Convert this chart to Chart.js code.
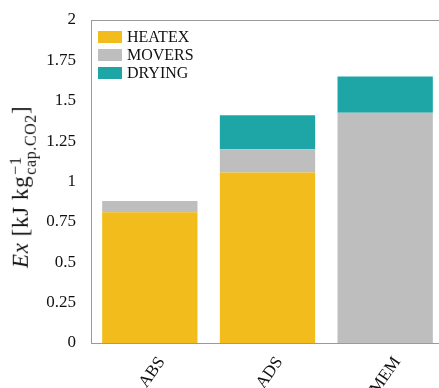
<!DOCTYPE html>
<html>
<head>
<meta charset="utf-8">
<script src="https://cdn.jsdelivr.net/npm/chart.js@4/dist/chart.umd.min.js"></script>
<style>
    html, body { margin: 0; padding: 0; background: #fff; overflow: hidden; }
    #wrap { position: relative; width: 439px; height: 388px; overflow: hidden; }
    #box { position: absolute; left: 0; top: 0; width: 446px; height: 388px; }
    #legend { position: absolute; left: 98px; top: 28px; font-family: "Liberation Serif", serif; font-size: 16px; color: #111; }
    #legend .row { display: flex; align-items: center; height: 18px; }
    #legend .sw { width: 24px; height: 12px; margin-right: 5px; }
    #ytitle { position: absolute; left: 23px; top: 187px; transform: translate(-50%, -50%) rotate(-90deg);
        white-space: nowrap; font-family: "Liberation Serif", serif; font-weight: normal; font-size: 23px;
        letter-spacing: 0.6px; color: #111; }
    #ytitle .ss { display: inline-flex; flex-direction: column; vertical-align: middle; line-height: 0.95; font-size: 16px; margin-left: 1px; }
</style>
</head>
<body>
<div id="wrap">
    <div id="box"><canvas id="chart"></canvas></div>
    <div id="legend"></div>
    <div id="ytitle"><i>Ex</i> [kJ kg<span class="ss"><span>&minus;1</span><span>cap.CO2</span></span>]</div>
</div>
<script>
const categories = ['ABS', 'ADS', 'MEM'];
const heatex = [0.81, 1.055, 0];
const movers = [0.07, 0.145, 1.425];
const drying = [0, 0.21, 0.225];
const yTicks = [0, 0.25, 0.5, 0.75, 1, 1.25, 1.5, 1.75, 2];

const SERIES = [
    { label: 'HEATEX', data: heatex, color: '#F2BD1C' },
    { label: 'MOVERS', data: movers, color: '#BEBEBE' },
    { label: 'DRYING', data: drying, color: '#1EA6A6' },
];

document.getElementById('legend').innerHTML = SERIES.map(s =>
    `<div class="row"><span class="sw" style="background:${s.color}"></span><span>${s.label}</span></div>`
).join('');

// frame round the plot area
const frame = {
    id: 'frame',
    afterDatasetsDraw(chart) {
        const { ctx, chartArea: a } = chart;
        ctx.save();
        ctx.strokeStyle = '#9a9a9a';
        ctx.lineWidth = 1;
        ctx.strokeRect(a.left + 0.5, a.top + 0.5, a.right - a.left - 1, a.bottom - a.top);
        ctx.restore();
    }
};

const tickFont = { family: "'Times New Roman', 'Liberation Serif', 'DejaVu Serif', serif", size: 17 };

new Chart(document.getElementById('chart').getContext('2d'), {
    type: 'bar',
    data: {
        labels: categories,
        datasets: SERIES.map(s => ({
            label: s.label, data: s.data, backgroundColor: s.color,
            borderWidth: 0, barPercentage: 0.81, categoryPercentage: 1,
        }))
    },
    options: {
        responsive: true, maintainAspectRatio: false, animation: false,
        layout: { padding: { top: 20, right: 2, left: 0, bottom: 0 } },
        plugins: { legend: { display: false }, tooltip: { enabled: false } },
        scales: {
            x: {
                stacked: true,
                grid: { display: false }, border: { display: false },
                ticks: { color: '#111', font: tickFont, maxRotation: 55, minRotation: 55, padding: 2, labelOffset: 12 },
                afterFit: s => { s.height = 45; }
            },
            y: {
                stacked: true, min: 0, max: 2,
                grid: { display: false }, border: { display: false },
                afterBuildTicks: s => { s.ticks = yTicks.map(v => ({ value: v })); },
                ticks: { color: '#111', font: tickFont, padding: 7, callback: v => String(v) },
                afterFit: s => { s.width = 91; }
            }
        }
    },
    plugins: [frame]
});
</script>
</body>
</html>
